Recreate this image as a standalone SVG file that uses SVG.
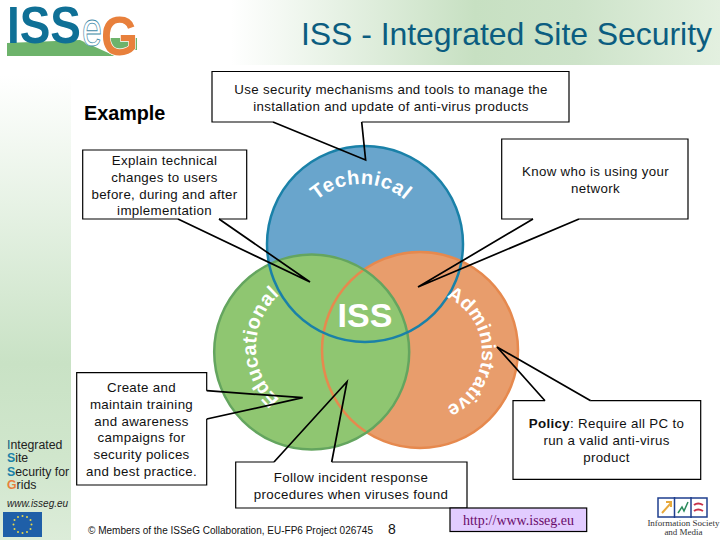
<svg xmlns="http://www.w3.org/2000/svg" width="720" height="540" viewBox="0 0 720 540">
<style>
text{font-family:"Liberation Sans",Arial,sans-serif}
.c{font-size:13.3px;text-anchor:middle;fill:#111;letter-spacing:.33px}
.box{fill:#fff;stroke:#000;stroke-width:1.2}
.tail{fill:none;stroke:#000;stroke-width:1.7;stroke-linejoin:miter}
.arc{font-weight:bold;fill:#fff;text-anchor:middle}
.side{font-size:12.3px;fill:#222}
</style>
<defs>
<linearGradient id="hg" x1="0" x2="1" y1="0" y2="0"><stop offset="0" stop-color="#fff"/><stop offset=".32" stop-color="#fff"/><stop offset=".66" stop-color="#c7e0c2"/><stop offset=".8" stop-color="#cde3c9"/><stop offset="1" stop-color="#e3f0e0"/></linearGradient>
<linearGradient id="vg" x1="0" x2="0" y1="0" y2="1"><stop offset="0" stop-color="#fff"/><stop offset=".62" stop-color="#c9e2c5"/><stop offset=".82" stop-color="#d0e6cc"/><stop offset="1" stop-color="#dcecd9"/></linearGradient>
<path id="pT" d="M293 252A68 68 0 0 1 429 252"/>
<path id="pE" d="M326 417A70 70 0 0 1 326 277"/>
<path id="pA" d="M422 292A60 60 0 0 1 422 412"/>
</defs>
<rect width="720" height="540" fill="#fff"/>
<rect width="720" height="65" fill="url(#hg)"/>
<rect x="0" y="75" width="71" height="465" fill="url(#vg)"/>

<g id="logo">
<path d="M7 43L80 40L115 56H7Z" fill="#6db36b"/>
<path d="M110 38H137V50H110Z" fill="#6db36b"/>
<text x="7" y="43" font-size="52" font-weight="bold" fill="#0f7096" textLength="74" lengthAdjust="spacingAndGlyphs">ISS</text>
<ellipse cx="92" cy="33" rx="10.500" ry="13" fill="#fff"/>
<text x="82" y="46" font-size="48" fill="#fff" stroke="#3f8aa8" stroke-width=".8" textLength="20" lengthAdjust="spacingAndGlyphs">e</text>
<text x="101" y="55" font-size="56" font-weight="bold" fill="#e8803c" stroke="#fff" stroke-width="1.500" paint-order="stroke" textLength="37" lengthAdjust="spacingAndGlyphs">G</text>
</g>
<text id="title" x="301" y="45" font-size="32" fill="#0b5d80" textLength="411">ISS - Integrated Site Security</text>
<text id="example" x="84" y="120" font-size="19.800" font-weight="bold" fill="#000">Example</text>

<g id="venn">
<circle cx="365" cy="244" r="98" fill="#69a5cc"/>
<circle cx="420" cy="350" r="98" fill="#e89d6c"/>
<circle cx="311.700" cy="352" r="97.500" fill="#8fc671"/>
<circle cx="420" cy="350" r="98" fill="none" stroke="#e6894e" stroke-width="2.500"/>
<circle cx="311.700" cy="352" r="97.500" fill="none" stroke="#64a55f" stroke-width="2.500"/>
<circle cx="365" cy="244" r="98" fill="none" stroke="#1a81a8" stroke-width="2.500"/>
</g>
<g id="n-technical"><text class="arc" font-size="20" letter-spacing=".6"><textPath href="#pT" startOffset="50%">Technical</textPath></text></g>
<g id="n-educational"><text class="arc" font-size="20" letter-spacing=".5"><textPath href="#pE" startOffset="50%">Educational</textPath></text></g>
<g id="n-administrative"><text class="arc" font-size="19.500" letter-spacing=".2"><textPath href="#pA" startOffset="50%">Administrative</textPath></text></g>
<g id="n-iss"><text x="365" y="327" font-size="34" font-weight="bold" fill="#fff" text-anchor="middle">ISS</text></g>

<g id="n-use">
<path class="box" d="M273 122H212V71.500H569V122H361.700"/>
<text class="c" x="391" y="94">Use security mechanisms and tools to manage the</text>
<text class="c" x="391" y="111">installation and update of anti-virus products</text>
</g>
<g id="n-know">
<path class="box" d="M533 219H501.700V139H688V219H579"/>
<text class="c" x="595.500" y="176">Know who is using your</text>
<text class="c" x="595.500" y="193">network</text>
</g>
<g id="n-explain">
<path class="box" d="M178 219H82.700V150H246.700V219H219"/>
<text class="c" x="164.500" y="165">Explain technical</text>
<text class="c" x="164.500" y="182">changes to users</text>
<text class="c" x="164.500" y="199">before, during and after</text>
<text class="c" x="164.500" y="215">implementation</text>
</g>
<g id="n-create">
<path class="box" d="M206.700 390.700V372.700H76.700V485H206.700V419"/>
<text class="c" x="141.500" y="392">Create and</text>
<text class="c" x="141.500" y="409">maintain training</text>
<text class="c" x="141.500" y="426">and awareness</text>
<text class="c" x="141.500" y="442">campaigns for</text>
<text class="c" x="141.500" y="459">security polices</text>
<text class="c" x="141.500" y="476">and best practice.</text>
</g>
<g id="n-follow">
<path class="box" d="M274 462H235.700V508H467V462H331.700"/>
<text class="c" x="351" y="482">Follow incident response</text>
<text class="c" x="351" y="499">procedures when viruses found</text>
</g>
<g id="n-policy">
<path class="box" d="M545 400.700H513V479.300H700.700V400.700H590.700"/>
<text class="c" x="606.500" y="428"><tspan font-weight="bold">Policy</tspan>: Require all PC to</text>
<text class="c" x="606.500" y="445">run a valid anti-virus</text>
<text class="c" x="606.500" y="462">product</text>
</g>

<g id="connectors">
<path class="tail" d="M273 122L365.600 160L361.700 122"/>
<path class="tail" d="M533 219L418 287L579 219"/>
<path class="tail" d="M178 219L310 282L219 219"/>
<path class="tail" d="M206.700 390.700L302.700 397.700L206.700 419"/>
<path class="tail" d="M274 462L347 381.700L331.700 462"/>
<path class="tail" d="M545 400.700L497 347L590.700 400.700"/>
</g>

<g id="sidebar">
<text class="side" x="7" y="449"><tspan fill="#0b5d80">I</tspan>ntegrated</text>
<text class="side" x="7" y="462"><tspan fill="#1a81a8" font-weight="bold">S</tspan>ite</text>
<text class="side" x="7" y="476"><tspan fill="#1a81a8" font-weight="bold">S</tspan>ecurity for</text>
<text class="side" x="7" y="489"><tspan fill="#e8803c" font-weight="bold">G</tspan>rids</text>
<text x="7" y="507" font-size="10" font-style="italic" fill="#222">www.isseg.eu</text>
</g>
<g id="eu-flag">
<rect x="3" y="512" width="39" height="25" fill="#1f5fa8"/>
<g fill="#e8d84a">
<circle cx="22.500" cy="516" r="1"/><circle cx="27" cy="517" r="1"/><circle cx="30.500" cy="520" r="1"/><circle cx="31.500" cy="524.500" r="1"/><circle cx="30.500" cy="529" r="1"/><circle cx="27" cy="532" r="1"/><circle cx="22.500" cy="533" r="1"/><circle cx="18" cy="532" r="1"/><circle cx="14.500" cy="529" r="1"/><circle cx="13.500" cy="524.500" r="1"/><circle cx="14.500" cy="520" r="1"/><circle cx="18" cy="517" r="1"/>
</g>
</g>
<text id="copyright" x="88" y="534" font-size="10" fill="#111" textLength="285">© Members of the ISSeG Collaboration, EU-FP6 Project 026745</text>
<text id="page" x="388" y="534" font-size="14" fill="#111">8</text>
<g id="url">
<rect x="450" y="508" width="136.700" height="23.500" fill="#e2ccff" stroke="#000" stroke-width="1.200"/>
<text x="518.500" y="525" font-size="14" fill="#6a0a6a" text-anchor="middle" style="font-family:'Liberation Serif',serif">http://www.isseg.eu</text>
</g>
<g id="ist-logo">
<rect x="658" y="498" width="49" height="19" fill="#fff" stroke="#1f3f8f" stroke-width="1.500"/>
<path d="M674.500 497V518M691 497V518" stroke="#1f3f8f" stroke-width="1.500"/>
<path d="M662 513L671 503M666 502H671V507" fill="none" stroke="#e8a93c" stroke-width="2"/>
<path d="M678 513L682 507L684 511L688 502" fill="none" stroke="#2a8a5a" stroke-width="1.500"/>
<path d="M694 505Q698 502 703 505M694 511Q698 508 703 511" fill="none" stroke="#c8324a" stroke-width="2"/>
<text x="683.500" y="526" font-size="9" text-anchor="middle" fill="#333" style="font-family:'Liberation Serif',serif">Information Society</text>
<text x="683.500" y="535" font-size="9" text-anchor="middle" fill="#333" style="font-family:'Liberation Serif',serif">and Media</text>
</g>
</svg>
